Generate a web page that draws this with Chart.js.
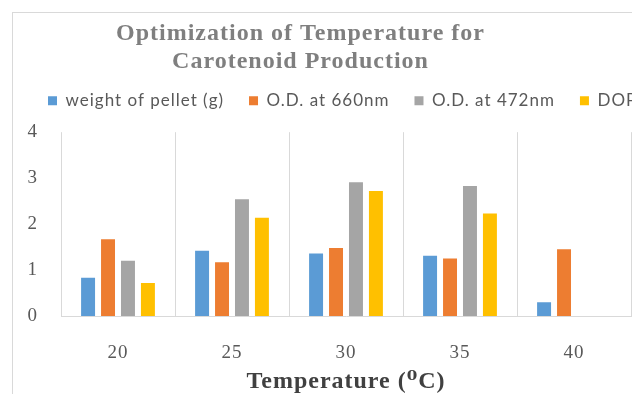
<!DOCTYPE html>
<html>
<head>
<meta charset="utf-8">
<script src="https://cdn.jsdelivr.net/npm/chart.js@4"></script>
<style>
    html, body {margin: 0; padding: 0; background: #fff; overflow: hidden; width: 632px; height: 394px;}
    #frame {position: absolute; left: 12px; top: 12px; width: 700px; height: 500px; border: 1px solid #d9d9d9;}
    #wrap {position: absolute; left: -30px; top: 0; width: 662px; height: 394px;}
</style>
</head>
<body>
<div id="frame"></div>
<div id="wrap"><canvas id="tempChart" width="662" height="394"></canvas></div>
<script>
const temperatures = ['20', '25', '30', '35', '40'];
const pelletWeight = [0.83, 1.42, 1.36, 1.31, 0.30];
const od660 = [1.67, 1.17, 1.48, 1.25, 1.45];
const od472 = [1.20, 2.54, 2.91, 2.83, null];
const dop = [0.72, 2.14, 2.72, 2.23, null];
const yTicks = [0, 1, 2, 3, 4];

const serif = "'Liberation Serif', 'DejaVu Serif', serif";

const makeSet = (label, data, color) => ({
    label,
    data,
    backgroundColor: color,
    borderWidth: 0,
    barPercentage: 0.7,
    categoryPercentage: 0.7,
});

// word-style wide text, and legend pushed to where it sits in the original
const textLook = {
    id: 'textLook',
    beforeUpdate(chart) { chart.ctx.letterSpacing = '1px'; },
    beforeDraw(chart) { chart.ctx.letterSpacing = '1px'; },
    afterLayout(chart) {
        chart.legend.left += 53;
        chart.legend.right += 53;
    },
};

const ctx = document.getElementById('tempChart').getContext('2d');
const chart = new Chart(ctx, {
    type: 'bar',
    data: {
        labels: temperatures,
        datasets: [
            makeSet('weight of pellet (g)', pelletWeight, '#5B9BD5'),
            makeSet('O.D. at 660nm', od660, '#ED7D31'),
            makeSet('O.D. at 472nm', od472, '#A5A5A5'),
            makeSet('DOP', dop, '#FFC000'),
        ],
    },
    plugins: [textLook],
    options: {
        responsive: false,
        animation: false,
        layout: {padding: {left: 0, right: 1, top: 0, bottom: 0}},
        plugins: {
            tooltip: {enabled: false},
            title: {
                display: true,
                text: ['Optimization of Temperature for', 'Carotenoid Production'],
                color: '#7f7f7f',
                font: {family: serif, size: 24, weight: 'bold', lineHeight: 1.17},
                padding: {top: 19.5, bottom: -8.5},
            },
            subtitle: {
                display: true,
                text: '',
                weight: 500,
                font: {size: 1, lineHeight: 1},
                padding: {top: 0, bottom: 12},
            },
            legend: {
                display: true,
                align: 'start',
                labels: {
                    color: '#595959',
                    font: {family: "Lato, 'Open Sans', sans-serif", size: 17},
                    boxWidth: 9,
                    boxHeight: 9,
                    padding: 25,
                },
            },
        },
        scales: {
            x: {
                afterFit: (scale) => { scale.height = 78; },
                grid: {display: true, color: '#d9d9d9', drawTicks: false, offset: true},
                border: {display: true, color: '#d9d9d9'},
                ticks: {color: '#595959', font: {family: serif, size: 19}, padding: 25.5},
                title: {
                    display: true,
                    text: 'Temperature (\u2070C)',
                    color: '#404040',
                    font: {family: serif, size: 24, weight: 'bold', lineHeight: 1},
                    padding: {top: 0, bottom: 0},
                },
            },
            y: {
                min: 0,
                max: 4,
                afterFit: (scale) => { scale.width = 91; },
                afterBuildTicks: (scale) => { scale.ticks = yTicks.map(v => ({value: v})); },
                grid: {display: false, drawTicks: false},
                border: {display: false},
                ticks: {color: '#595959', font: {family: serif, size: 19}, padding: 23},
            },
        },
    },
});
</script>
</body>
</html>
